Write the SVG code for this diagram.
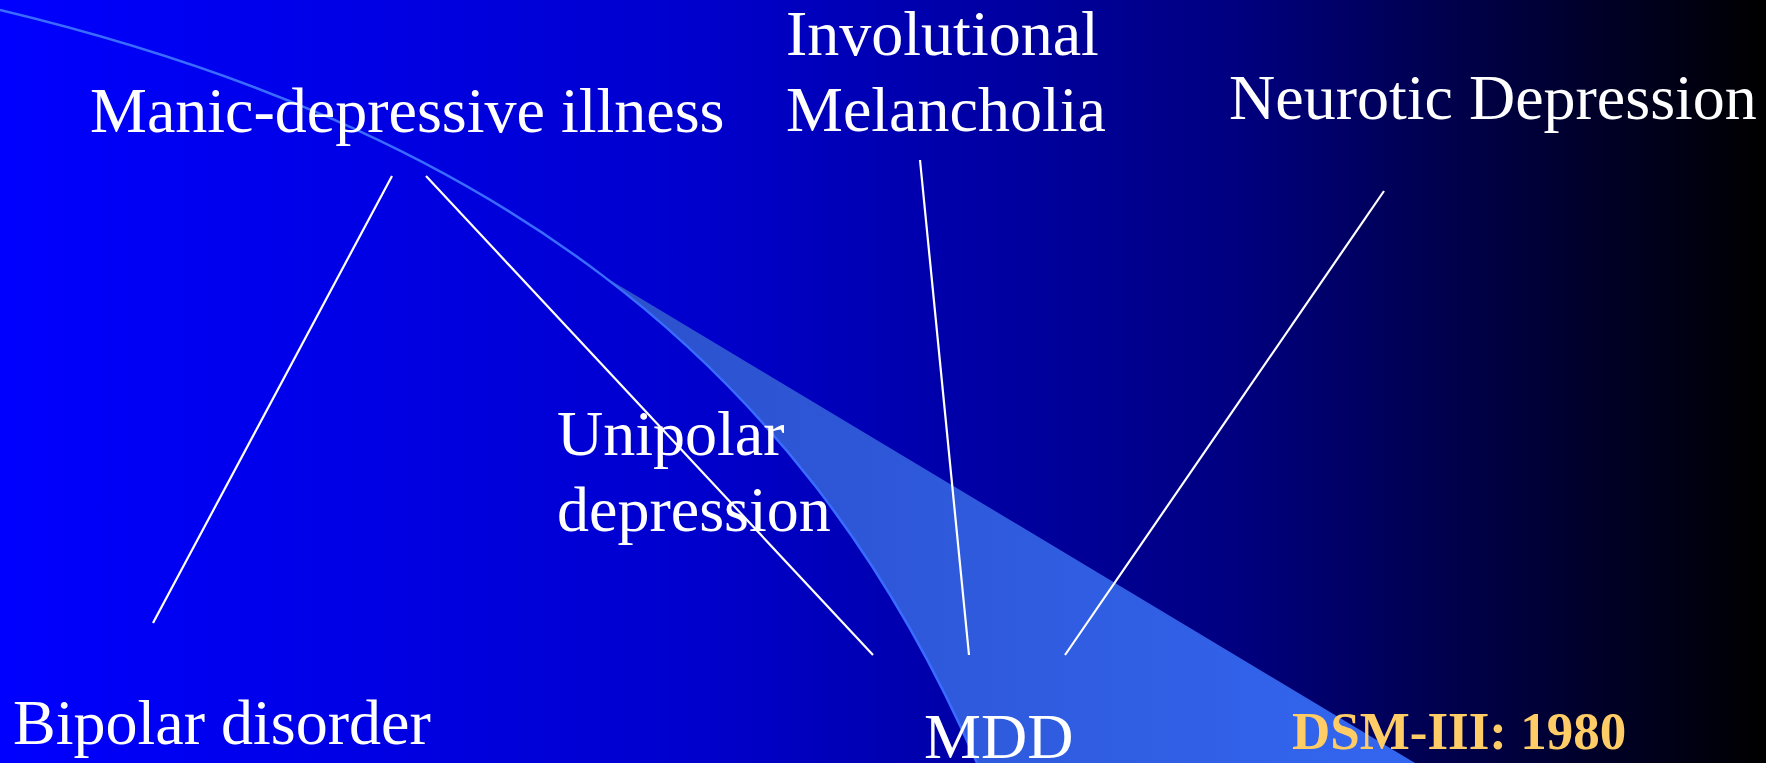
<svg xmlns="http://www.w3.org/2000/svg" width="1766" height="763" viewBox="0 0 1766 763">
  <style>
    .lbl { font-family: "Liberation Serif", "Times New Roman", serif; font-size: 64px; fill: #ffffff; }
    .hl { font-family: "Liberation Serif", "Times New Roman", serif; font-size: 53px; font-weight: bold; fill: #ffcc66; }
    .conn { stroke: #ffffff; stroke-width: 2.2; fill: none; stroke-linecap: butt; }
  </style>
  <defs>
    <linearGradient id="bg" x1="0" y1="0" x2="1766" y2="0" gradientUnits="userSpaceOnUse">
      <stop offset="0" stop-color="#0000ff"/>
      <stop offset="0.4" stop-color="#0000cc"/>
      <stop offset="0.7" stop-color="#000080"/>
      <stop offset="1" stop-color="#000000"/>
    </linearGradient>
    <linearGradient id="wedgeFill" x1="550" y1="0" x2="1420" y2="0" gradientUnits="userSpaceOnUse">
      <stop offset="0" stop-color="#2b4fca"/>
      <stop offset="1" stop-color="#3366f0"/>
    </linearGradient>
    <clipPath id="aboveCurve">
      <path d="M0,10 C480,125 797,349 977,763 L1766,763 L1766,0 L0,0 Z"/>
    </clipPath>
  </defs>

  <rect x="0" y="0" width="1766" height="763" fill="url(#bg)"/>

  <g id="background-shapes">
    <polygon points="530,232 1420,766 1420,780 530,780" fill="url(#wedgeFill)" clip-path="url(#aboveCurve)"/>
    <path d="M0,10 C480,125 797,349 977,763" fill="none" stroke="#3a6cff" stroke-width="2.5"/>
  </g>

  <g id="connectors">
    <line class="conn" x1="392" y1="176" x2="153" y2="623"/>
    <line class="conn" x1="426" y1="176" x2="873" y2="655"/>
    <line class="conn" x1="920" y1="160" x2="969" y2="655"/>
    <line class="conn" x1="1384" y1="191" x2="1065" y2="655"/>
  </g>

  <g id="node-manic">
    <text class="lbl" x="90" y="132">Manic-depressive illness</text>
  </g>
  <g id="node-involutional">
    <text class="lbl" x="786" y="55">Involutional</text>
    <text class="lbl" x="786" y="131">Melancholia</text>
  </g>
  <g id="node-neurotic">
    <text class="lbl" x="1229" y="119">Neurotic Depression</text>
  </g>
  <g id="node-unipolar">
    <text class="lbl" x="557" y="455">Unipolar</text>
    <text class="lbl" x="557" y="531">depression</text>
  </g>
  <g id="node-bipolar">
    <text class="lbl" x="13" y="744">Bipolar disorder</text>
  </g>
  <g id="node-mdd">
    <text class="lbl" x="924" y="758">MDD</text>
  </g>
  <g id="node-dsm">
    <text class="hl" x="1292" y="749">DSM-III: 1980</text>
  </g>
</svg>
